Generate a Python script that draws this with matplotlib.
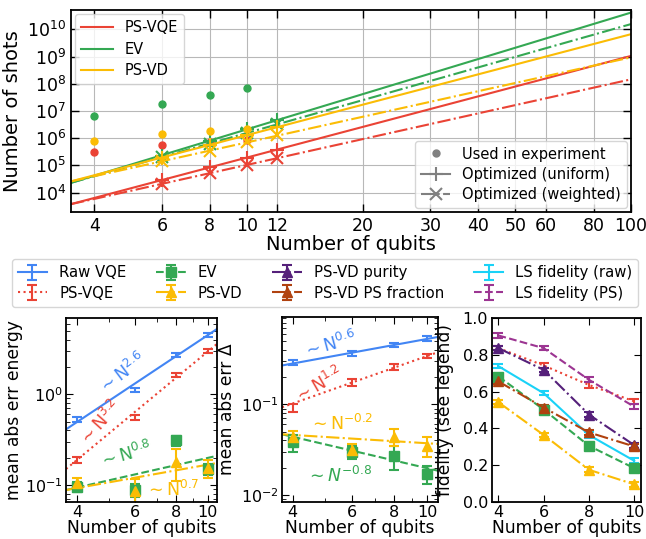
import numpy as np
import matplotlib.pyplot as plt
from matplotlib.lines import Line2D
from matplotlib.ticker import NullLocator, NullFormatter

RED = '#ea4335'
GREEN = '#34a853'
YELLOW = '#fbbc05'
BLUE = '#4285f4'
PURPLE = '#55207a'
BROWN = '#b0420f'
CYAN = '#1ad2f7'
MAGENTA = '#9c3592'

# ---- top panel: number of shots ----
exp_qubits = [4, 6, 8, 10]
exp_psvqe = [3.2e5, 5.6e5, 7.1e5, 8.7e5]
exp_ev = [6.6e6, 1.8e7, 3.7e7, 6.8e7]
exp_psvd = [7.8e5, 1.4e6, 1.8e6, 2.2e6]

opt_qubits = [6, 8, 10, 12]
uni_psvqe = [2.9e4, 8.5e4, 1.95e5, 3.8e5]
wei_psvqe = [2.1e4, 5.1e4, 1.05e5, 1.86e5]
uni_ev = [2.3e5, 8.1e5, 2.1e6, 4.6e6]
wei_ev = [2.0e5, 6.3e5, 1.55e6, 3.2e6]
uni_psvd = [1.95e5, 5.8e5, 1.3e6, 2.6e6]
wei_psvd = [1.45e5, 3.5e5, 7.1e5, 1.26e6]

# extrapolated scaling lines, read at both ends of the axis
fit_qubits = [3.48, 100]
uni_fit_psvqe = [3.8e3, 1.05e9]
wei_fit_psvqe = [3.8e3, 1.45e8]
uni_fit_ev = [2.3e4, 4.1e10]
wei_fit_ev = [2.3e4, 1.55e10]
uni_fit_psvd = [2.6e4, 6.6e9]
wei_fit_psvd = [2.6e4, 9.3e8]

top_xticks = [4, 6, 8, 10, 12, 20, 30, 40, 50, 60, 80, 100]

# ---- bottom panels ----
qubits = [4, 6, 8, 10]

raw_energy = [0.53, 1.12, 2.73, 4.53]
raw_energy_err = [0.03, 0.06, 0.14, 0.22]
ps_energy = [0.19, 0.56, 1.62, 2.97]
ps_energy_err = [0.015, 0.035, 0.09, 0.15]
ev_energy = [0.095, 0.088, 0.31, 0.15]
ev_energy_err = [0.012, 0.015, 0.04, 0.02]
psvd_energy = [0.105, 0.085, 0.18, 0.155]
psvd_energy_err = [0.015, 0.03, 0.07, 0.035]

fit_q1 = [3.7, 10.7]
raw_energy_fit = [0.41, 5.25]
ps_energy_fit = [0.15, 3.6]
ev_energy_fit = [0.088, 0.21]
psvd_energy_fit = [0.088, 0.175]

raw_delta = [0.29, 0.365, 0.455, 0.54]
raw_delta_err = [0.02, 0.025, 0.025, 0.03]
ps_delta = [0.092, 0.175, 0.26, 0.345]
ps_delta_err = [0.01, 0.015, 0.02, 0.02]
ev_delta = [0.038, 0.030, 0.027, 0.017]
ev_delta_err = [0.008, 0.005, 0.008, 0.004]
psvd_delta = [0.044, 0.031, 0.044, 0.035]
psvd_delta_err = [0.007, 0.005, 0.009, 0.009]

fit_q2 = [3.72, 10.8]
raw_delta_fit = [0.27, 0.56]
ps_delta_fit = [0.093, 0.38]
ev_delta_fit = [0.0467, 0.0184]
psvd_delta_fit = [0.0467, 0.0365]

ps_vqe_fid = [0.836, 0.742, 0.636, 0.547]
ls_ps_fid = [0.905, 0.836, 0.664, 0.518]
psvd_purity = [0.836, 0.718, 0.475, 0.309]
ls_raw_fid = [0.738, 0.591, 0.364, 0.224]
ev_fid = [0.682, 0.502, 0.305, 0.184]
psvd_frac = [0.655, 0.513, 0.378, 0.302]
psvd_fid = [0.542, 0.364, 0.175, 0.096]
fid_err = [0.012, 0.012, 0.014, 0.014]

W, H = 646, 539
fig = plt.figure(figsize=(W / 100, H / 100), dpi=100)


def box(x0, y0, x1, y1):
    return [x0 / W, 1 - y1 / H, (x1 - x0) / W, (y1 - y0) / H]


# ---------------- top panel ----------------
ax = fig.add_axes(box(71, 10, 631, 212))
series = [
    (RED, exp_psvqe, uni_psvqe, wei_psvqe, uni_fit_psvqe, wei_fit_psvqe),
    (GREEN, exp_ev, uni_ev, wei_ev, uni_fit_ev, wei_fit_ev),
    (YELLOW, exp_psvd, uni_psvd, wei_psvd, uni_fit_psvd, wei_fit_psvd),
]
for col, exp, uni, wei, ufit, wfit in series:
    ax.plot(fit_qubits, ufit, color=col, lw=1.5)
    ax.plot(fit_qubits, wfit, color=col, lw=1.5, ls='-.')
    ax.plot(opt_qubits, uni, ls='none', marker='+', ms=10, mew=1.5, color=col)
    ax.plot(opt_qubits, wei, ls='none', marker='x', ms=8, mew=1.5, color=col)
    ax.plot(exp_qubits, exp, ls='none', marker='o', ms=5, color=col)

ax.set_xscale('log')
ax.set_yscale('log')
ax.set_xlim(3.48, 100)
ax.set_ylim(1.95e3, 5.1e10)
ax.set_xticks(top_xticks, labels=[str(t) for t in top_xticks])
ax.xaxis.set_minor_locator(NullLocator())
ax.set_yticks([10.0 ** k for k in range(4, 11)])
ax.yaxis.set_minor_locator(NullLocator())
ax.grid(True, color='#b8b8b8', lw=0.8)
ax.tick_params(which='both', direction='in', top=True, right=True,
               length=6, width=1, labelsize=12.5)
for s in ax.spines.values():
    s.set_linewidth(1.3)
ax.set_xlabel('Number of qubits', fontsize=14, labelpad=0)
ax.set_ylabel('Number of shots', fontsize=14, labelpad=4)

leg1 = ax.legend(
    [Line2D([], [], color=RED, lw=1.5), Line2D([], [], color=GREEN, lw=1.5),
     Line2D([], [], color=YELLOW, lw=1.5)],
    ['PS-VQE', 'EV', 'PS-VD'],
    loc='upper left', fontsize=10.5, labelspacing=0.45,
    borderaxespad=0.3, handlelength=2.2)
ax.add_artist(leg1)
ax.legend(
    [Line2D([], [], color='gray', ls='none', marker='o', ms=5),
     Line2D([], [], color='gray', marker='+', ms=10, mew=1.5, lw=1.5),
     Line2D([], [], color='gray', ls='-.', marker='x', ms=8, mew=1.5, lw=1.5)],
    ['Used in experiment', 'Optimized (uniform)', 'Optimized (weighted)'],
    loc='lower right', fontsize=10.5, labelspacing=0.35,
    borderaxespad=0.3, handlelength=2.0)

# ---------------- bottom panels ----------------
eb = dict(capsize=3.5, capthick=1.5, elinewidth=1.5, lw=1.5)

ax1 = fig.add_axes(box(66, 318, 217.3, 502))
ax2 = fig.add_axes(box(282, 317, 438.3, 502))
ax3 = fig.add_axes(box(491.7, 318, 641, 502))

# panel 1: energy error
ax1.plot(fit_q1, raw_energy_fit, color=BLUE, lw=1.5)
ax1.plot(fit_q1, ps_energy_fit, color=RED, lw=1.5, ls=':')
ax1.plot(fit_q1, ev_energy_fit, color=GREEN, lw=1.5, ls='--')
ax1.plot(fit_q1, psvd_energy_fit, color=YELLOW, lw=1.5, ls='-.')
ax1.errorbar(qubits, raw_energy, yerr=raw_energy_err, color=BLUE, ls='none', **eb)
ax1.errorbar(qubits, ps_energy, yerr=ps_energy_err, color=RED, ls='none', **eb)
ax1.errorbar(qubits, ev_energy, yerr=ev_energy_err, color=GREEN, ls='none',
             marker='s', ms=6.5, **eb)
ax1.errorbar(qubits, psvd_energy, yerr=psvd_energy_err, color=YELLOW, ls='none',
             marker='^', ms=7, **eb)
ax1.set_xscale('log')
ax1.set_yscale('log')
ax1.set_xlim(fit_q1)
ax1.set_ylim(0.065, 6.9)
ax1.set_ylabel('mean abs err energy', fontsize=12.3, labelpad=1)

ann = dict(fontsize=12.5, ha='center', va='center', rotation_mode='anchor')
ax1.text(5.48, 1.68, r'$\sim$N$^{2.6}$', color=BLUE, rotation=37, **ann)
ax1.text(4.70, 0.48, r'$\sim$N$^{3.2}$', color=RED, rotation=48, **ann)
ax1.text(5.6, 0.214, r'$\sim$N$^{0.8}$', color=GREEN, rotation=15, **ann)
ax1.text(7.8, 0.088, r'$\sim$N$^{0.7}$', color=YELLOW, rotation=0, **ann)

# panel 2: error in Delta
ax2.plot(fit_q2, raw_delta_fit, color=BLUE, lw=1.5)
ax2.plot(fit_q2, ps_delta_fit, color=RED, lw=1.5, ls=':')
ax2.plot(fit_q2, ev_delta_fit, color=GREEN, lw=1.5, ls='--')
ax2.plot(fit_q2, psvd_delta_fit, color=YELLOW, lw=1.5, ls='-.')
ax2.errorbar(qubits, raw_delta, yerr=raw_delta_err, color=BLUE, ls='none', **eb)
ax2.errorbar(qubits, ps_delta, yerr=ps_delta_err, color=RED, ls='none', **eb)
ax2.errorbar(qubits, ev_delta, yerr=ev_delta_err, color=GREEN, ls='none',
             marker='s', ms=6.5, **eb)
ax2.errorbar(qubits, psvd_delta, yerr=psvd_delta_err, color=YELLOW, ls='none',
             marker='^', ms=7, **eb)
ax2.set_xscale('log')
ax2.set_yscale('log')
ax2.set_xlim(fit_q2)
ax2.set_ylim(0.0083, 0.93)
ax2.set_ylabel('mean abs err Δ', fontsize=12.3, labelpad=3)
ax2.text(5.16, 0.46, r'$\sim$N$^{0.6}$', color=BLUE, rotation=15, **ann)
ax2.text(4.75, 0.162, r'$\sim$N$^{1.2}$', color=RED, rotation=30, **ann)
ax2.text(5.56, 0.0612, r'$\sim$N$^{-0.2}$', color=YELLOW, rotation=0, **ann)
ax2.text(5.48, 0.016, r'$\sim N^{-0.8}$', color=GREEN, rotation=0, **ann)

# panel 3: fidelities
h_raw = ax3.errorbar([np.nan], [np.nan], yerr=[np.nan], color=BLUE, ls='-', **eb)
h_ps = ax3.errorbar(qubits, ps_vqe_fid, yerr=fid_err, color=RED, ls=':', **eb)
h_lsps = ax3.errorbar(qubits, ls_ps_fid, yerr=fid_err, color=MAGENTA, ls='--', **eb)
h_pur = ax3.errorbar(qubits, psvd_purity, yerr=fid_err, color=PURPLE, ls='-.',
                     marker='^', ms=7, **eb)
h_lsraw = ax3.errorbar(qubits, ls_raw_fid, yerr=fid_err, color=CYAN, ls='-', **eb)
h_ev = ax3.errorbar(qubits, ev_fid, yerr=fid_err, color=GREEN, ls='--',
                    marker='s', ms=6.5, **eb)
h_frac = ax3.errorbar(qubits, psvd_frac, yerr=fid_err, color=BROWN, ls='-.',
                      marker='^', ms=7, **eb)
h_psvd = ax3.errorbar(qubits, psvd_fid, yerr=fid_err, color=YELLOW, ls='-.',
                      marker='^', ms=7, **eb)
ax3.set_xlim(3.7, 10.3)
ax3.set_ylim(0, 1.0)
ax3.set_xticks([4, 6, 8, 10])
ax3.set_yticks(np.arange(0, 1.01, 0.2))
ax3.set_ylabel('fidelity (see legend)', fontsize=12.3, labelpad=6)

for a in (ax1, ax2, ax3):
    a.set_xlabel('Number of qubits', fontsize=12.3, labelpad=-1)
    a.tick_params(which='both', direction='in', top=True, right=True,
                  labelsize=11.5, pad=2.5)
    a.tick_params(which='major', length=5)
    a.tick_params(which='minor', length=3)
    for s in a.spines.values():
        s.set_linewidth(1.3)
for a in (ax1, ax2):
    a.set_xticks([4, 6, 8, 10], labels=['4', '6', '8', '10'])
    a.xaxis.set_minor_formatter(NullFormatter())

fig.legend(
    [h_raw, h_ps, h_ev, h_psvd, h_pur, h_frac, h_lsraw, h_lsps],
    ['Raw VQE', 'PS-VQE', 'EV', 'PS-VD', 'PS-VD purity', 'PS-VD PS fraction',
     'LS fidelity (raw)', 'LS fidelity (PS)'],
    ncol=4, loc='center', bbox_to_anchor=(325 / W, 1 - 283 / H),
    fontsize=10.7, columnspacing=2.0, handlelength=2.0, handletextpad=0.8,
    labelspacing=0.35)

fig.savefig('out.png', dpi=100)
